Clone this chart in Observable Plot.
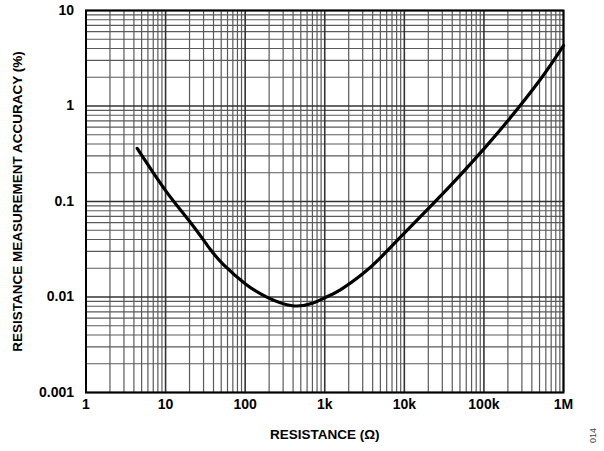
<!DOCTYPE html>
<html>
<head>
<meta charset="utf-8">
<script src="https://cdn.jsdelivr.net/npm/d3@7"></script>
<script src="https://cdn.jsdelivr.net/npm/@observablehq/plot@0.6"></script>
<style>
  html, body { margin: 0; padding: 0; background: #fff; }
  #chart { width: 604px; height: 451px; }
</style>
</head>
<body>
<div id="chart"></div>
<script>
// Data
const resistance = [4.4, 10, 20, 36, 53, 100, 190, 390, 700, 1000, 1570, 3000, 5000, 10000, 34000, 100000, 200000, 500000, 1000000];
const accuracy   = [0.36, 0.13, 0.062, 0.032, 0.022, 0.0138, 0.0099, 0.0081, 0.0086, 0.0098, 0.0119, 0.0175, 0.0257, 0.0466, 0.133, 0.356, 0.70, 1.85, 4.3];

const xTicks = [1, 10, 100, 1000, 10000, 100000, 1000000];
const xTickLabels = ["1", "10", "100", "1k", "10k", "100k", "1M"];
const yTicks = [0.001, 0.01, 0.1, 1, 10];
const yTickLabels = ["0.001", "0.01", "0.1", "1", "10"];

const xTitle = "RESISTANCE (Ω)";
const yTitle = "RESISTANCE MEASUREMENT ACCURACY (%)";
const figId = "014";

const data = resistance.map((r, i) => ({r, a: accuracy[i]}));

// minor grid positions (2..9 within each decade)
const mult = [2, 3, 4, 5, 6, 7, 8, 9];
const xMinor = xTicks.slice(0, -1).flatMap(d => mult.map(m => d * m));
const yMinor = yTicks.slice(0, -1).flatMap(d => mult.map(m => d * m));

const xFmt = d => xTickLabels[xTicks.indexOf(d)];
const yFmt = d => yTickLabels[yTicks.indexOf(d)];

const chart = Plot.plot({
  width: 604,
  height: 451,
  marginLeft: 85.5,
  marginRight: 41,
  marginTop: 10,
  marginBottom: 59,
  style: {fontFamily: "'Liberation Sans', Arial, Helvetica, sans-serif", fontWeight: "bold", fontSize: "14px", color: "#000", background: "#fff"},
  x: {type: "log", domain: [1, 1000000], axis: null},
  y: {type: "log", domain: [0.001, 10], axis: null},
  marks: [
    Plot.ruleX(xMinor, {stroke: "#5a5a5a", strokeWidth: 1.2}),
    Plot.ruleY(yMinor, {stroke: "#5a5a5a", strokeWidth: 1.2}),
    Plot.ruleX(xTicks, {stroke: "#333", strokeWidth: 1.6}),
    Plot.ruleY(yTicks, {stroke: "#333", strokeWidth: 1.6}),
    Plot.line(data, {x: "r", y: "a", curve: "natural", stroke: "#000", strokeWidth: 3.2}),
    Plot.frame({stroke: "#000", strokeWidth: 2}),
    Plot.text(xTicks, {x: d => d, frameAnchor: "bottom", dy: 16, text: xFmt, fontSize: 14, fontWeight: "bold", textAnchor: "middle"}),
    Plot.text(yTicks, {y: d => d, frameAnchor: "left", dx: -12, text: yFmt, fontSize: 14, fontWeight: "bold", textAnchor: "end"}),
    Plot.text([xTitle], {frameAnchor: "bottom", dy: 46, fontSize: 13.5, fontWeight: "bold", textAnchor: "middle"}),
    Plot.text([yTitle], {frameAnchor: "left", dx: -68, rotate: -90, fontSize: 13.5, fontWeight: "bold", textAnchor: "middle"}),
    Plot.text([figId], {frameAnchor: "bottom-right", dx: 32, dy: 43, rotate: -90, text: () => figId, fontSize: 9, fontWeight: "normal", fill: "#444", textAnchor: "middle"})
  ]
});
document.getElementById("chart").appendChild(chart);
</script>
</body>
</html>
